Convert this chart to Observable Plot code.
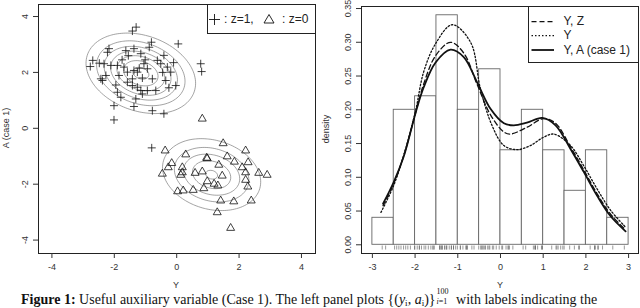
<!DOCTYPE html>
<html><head><meta charset="utf-8">
<script src="https://cdn.jsdelivr.net/npm/d3@7"></script>
<script src="https://cdn.jsdelivr.net/npm/@observablehq/plot@0.6"></script>
<style>
body{margin:0;background:#fff;}
#wrap{position:relative;width:640px;height:308px;overflow:hidden;font-family:"Liberation Sans",Arial,sans-serif;color:#222;}
#left,#right{position:absolute;top:0;}
#left{left:0}#right{left:320px}
.lg{position:absolute;border:1px solid #222;background:#fff;box-sizing:border-box;}
.t{position:absolute;font-size:9px;color:#333;white-space:nowrap;line-height:1;}
#caption{position:absolute;left:21px;top:293px;height:14px;font-family:"Liberation Serif","Times New Roman",serif;font-size:14px;white-space:nowrap;line-height:14px;color:#111;}
.stk{position:relative;display:inline-block;width:17px;height:1px;}
.stk span{position:absolute;left:1px;font-size:8px;line-height:8px;}
</style></head>
<body><div id="wrap">
<div id="left"></div><div id="right"></div>
</div>
<script>
// ---- left panel data: (Y, A) pairs, z=1 (plus) and z=0 (triangle)
const plusY = [-1.30,-1.42,0.05,-0.81,-0.88,-2.17,-2.22,-1.63,-1.37,-1.15,-1.01,-0.41,0.77,0.80,-2.69,-2.77,-2.48,-2.33,-2.11,-1.90,-2.43,-2.27,-2.38,-1.69,-1.58,-1.37,-1.26,-1.58,-1.42,-1.26,-1.15,-0.94,-0.67,-1.10,-1.90,-1.79,-1.31,-2.01,-1.37,-0.78,-0.41,-2.01,-0.51,-0.30,-0.19,-0.35,-0.03,-1.05,-0.94,-0.78,-0.62,-1.85,-1.42,-0.80,-1.75,-1.55,-1.95,-1.20,-1.10,-0.45,-0.25,-0.10];
const plusA = [3.62,3.48,3.02,3.08,2.90,2.85,2.72,2.78,2.85,2.67,2.45,2.61,2.31,2.03,2.43,2.21,2.33,2.31,2.25,2.25,1.77,1.89,1.71,2.19,2.01,2.07,2.01,1.65,1.53,1.47,1.35,1.35,1.35,1.23,1.29,1.11,1.05,0.81,0.78,0.63,0.52,0.30,2.31,2.19,2.01,1.71,1.53,2.31,2.13,1.77,2.43,1.89,1.77,-0.70,2.45,2.60,1.55,2.15,1.80,2.00,1.45,2.35];
const triY = [-0.37,0.29,1.49,2.21,1.62,-0.16,-0.27,0.96,0.98,1.35,0.18,0.18,-0.46,0.13,0.59,0.82,1.46,2.10,2.29,2.21,2.63,2.90,0.98,1.20,1.32,2.21,2.28,0.87,0.53,0.21,0.03,1.41,1.83,2.39,1.30,1.73,0.82,1.85];
const triA = [-0.80,-0.94,-0.54,-0.80,-1.01,-1.25,-1.40,-1.06,-1.08,-1.31,-1.40,-1.58,-1.63,-1.67,-1.60,-1.55,-1.70,-1.40,-1.22,-1.58,-1.60,-1.67,-1.90,-1.99,-2.05,-1.85,-2.09,-2.15,-2.21,-2.23,-2.26,-2.59,-2.62,-2.59,-3.01,-3.57,0.34,-1.20];
// fitted two-component normal mixture for the contour lines
const clusterMean = [[-1.15, 1.97], [1.12, -1.66]];
const clusterSD = [[0.88, 0.72], [0.87, 0.71]];
const clusterRho = [-0.25, -0.20];
const clusterWeight = [0.564, 0.39];
const contourLevels = [0.02, 0.04, 0.06, 0.08, 0.10, 0.12, 0.14];
const leftXTicks = [-4, -2, 0, 2, 4];
const leftYTicks = [-4, -2, 0, 2, 4];

// ---- right panel data
const binLeft = [-3,-2.5,-2,-1.5,-1,-0.5,0,0.5,1,1.5,2,2.5];
const binRight = [-2.5,-2,-1.5,-1,-0.5,0,0.5,1,1.5,2,2.5,3];
const binDensity = [0.04,0.20,0.22,0.34,0.20,0.26,0.14,0.20,0.14,0.08,0.14,0.04];
const yaX = [-2.75,-2.50,-2.26,-1.99,-1.80,-1.52,-1.17,-0.86,-0.55,-0.23,0.08,0.31,0.62,0.98,1.29,1.64,1.95,2.26,2.57,2.93];
const yaD = [0.061,0.093,0.132,0.195,0.233,0.270,0.289,0.278,0.241,0.201,0.180,0.177,0.181,0.188,0.177,0.142,0.108,0.073,0.043,0.020];
const yzX = [-2.75,-2.50,-2.26,-1.99,-1.80,-1.52,-1.17,-0.86,-0.55,-0.23,0.08,0.23,0.62,1.01,1.29,1.64,1.95,2.26,2.57,2.93];
const yzD = [0.058,0.091,0.133,0.195,0.238,0.280,0.300,0.284,0.238,0.192,0.167,0.164,0.174,0.187,0.180,0.145,0.111,0.076,0.046,0.022];
const yX = [-2.80,-2.50,-2.26,-1.99,-1.80,-1.52,-1.13,-0.70,-0.47,-0.20,0.08,0.39,0.70,1.00,1.25,1.64,1.95,2.26,2.58,2.93];
const yD = [0.048,0.088,0.134,0.198,0.256,0.298,0.326,0.300,0.231,0.177,0.147,0.141,0.147,0.159,0.164,0.147,0.117,0.083,0.051,0.026];
const rightXTicks = [-3,-2,-1,0,1,2,3];
const rightYTicks = [0,0.05,0.10,0.15,0.20,0.25,0.30,0.35];
const legendLabels = ["Y, Z", "Y", "Y, A (case 1)"];

// ---- build tables
const plusPts = plusY.map((y, i) => ({y, a: plusA[i]}));
const triPts = triY.map((y, i) => ({y, a: triA[i]}));
const hist = binLeft.map((x1, i) => ({x1, x2: binRight[i], d: binDensity[i]}));
const toPts = (xs, ds) => xs.map((x, i) => ({x, d: ds[i]}));
const rugY = plusY.concat(triY);

function mixture(x, y) {
  let s = 0;
  for (let k = 0; k < clusterWeight.length; k++) {
    const [mx, my] = clusterMean[k], [sx, sy] = clusterSD[k], r = clusterRho[k];
    const u = (x - mx) / sx, v = (y - my) / sy;
    const q = (u*u - 2*r*u*v + v*v) / (1 - r*r);
    s += clusterWeight[k] * Math.exp(-q/2) / (2*Math.PI*sx*sy*Math.sqrt(1 - r*r));
  }
  return s;
}

const font = {fontFamily: "Liberation Sans, Arial, sans-serif", fontSize: "9px", color: "#222", background: "white"};
const lx = [-4.43, 4.45], ly = [-4.48, 4.43];

const left = Plot.plot({
  width: 320, height: 290,
  marginLeft: 38, marginRight: 5, marginTop: 4, marginBottom: 37,
  x: {domain: lx}, y: {domain: ly},
  style: font,
  marks: [
    Plot.contour({value: mixture, x1: lx[0], x2: lx[1], y1: ly[0], y2: ly[1], thresholds: contourLevels, stroke: "#8c8c8c", strokeWidth: 0.8, fill: "none"}),
    Plot.dot(plusPts, {x: "y", y: "a", symbol: "plus", r: 2.7, stroke: "#111", strokeWidth: 0.8}),
    Plot.dot(triPts, {x: "y", y: "a", symbol: "triangle2", r: 3.8, stroke: "#111", strokeWidth: 0.8}),
    Plot.frame({stroke: "#222"}),
    Plot.axisX({ticks: leftXTicks, tickSize: 5, tickPadding: 5, tickFormat: d => String(d), label: null, color: "#333"}),
    Plot.axisY({ticks: leftYTicks, tickSize: 5, tickPadding: 6, tickRotate: -90, tickFormat: d => String(d), label: null, color: "#333"})
  ]
});
document.getElementById("left").appendChild(left);

const right = Plot.plot({
  width: 320, height: 290,
  marginLeft: 41, marginRight: 2, marginTop: 6, marginBottom: 37,
  x: {domain: [-3.255, 3.232]}, y: {domain: [-0.0129, 0.353]},
  style: font,
  marks: [
    Plot.rectY(hist, {x1: "x1", x2: "x2", y: "d", fill: "white", stroke: "#666", strokeWidth: 0.9}),
    Plot.ruleX(rugY, {x: d => d, y1: -0.0018, y2: -0.0078, stroke: "#555", strokeWidth: 0.6}),
    Plot.line(toPts(yzX, yzD), {x: "x", y: "d", curve: "catmull-rom", stroke: "#111", strokeWidth: 1.3, strokeDasharray: "5,3"}),
    Plot.line(toPts(yX, yD), {x: "x", y: "d", curve: "catmull-rom", stroke: "#111", strokeWidth: 1.3, strokeDasharray: "1.5,2"}),
    Plot.line(toPts(yaX, yaD), {x: "x", y: "d", curve: "catmull-rom", stroke: "#111", strokeWidth: 1.8}),
    Plot.frame({stroke: "#222"}),
    Plot.axisX({ticks: rightXTicks, tickSize: 5, tickPadding: 5, tickFormat: d => String(d), label: null, color: "#333"}),
    Plot.axisY({ticks: rightYTicks, tickSize: 5, tickPadding: 6, tickRotate: -90, tickFormat: d3.format(".2f"), label: null, color: "#333"})
  ]
});
document.getElementById("right").appendChild(right);

// ---- overlays: axis titles, legends, caption
const wrap = document.getElementById("wrap");
function add(html) { wrap.insertAdjacentHTML("beforeend", html); }
add(`<div class="t" style="left:176px;top:285px;transform:translate(-50%,-50%)">Y</div>`);
add(`<div class="t" style="left:500px;top:285px;transform:translate(-50%,-50%)">Y</div>`);
add(`<div class="t" style="left:6px;top:128px;transform:translate(-50%,-50%) rotate(-90deg)">A (case 1)</div>`);
add(`<div class="t" style="left:326px;top:129px;transform:translate(-50%,-50%) rotate(-90deg)">density</div>`);

add(`<div class="lg" style="left:207px;top:4px;width:109px;height:30px;">
<svg width="107" height="28" style="position:absolute;left:0;top:0">
<path d="M1,14.5h11M6.5,9v11" stroke="#111" stroke-width="0.9" fill="none"/>
<path d="M61,9.5l5,8.5h-10z" stroke="#111" stroke-width="0.9" fill="none"/>
</svg>
<span style="position:absolute;left:16px;top:7px;font-size:12px;line-height:14px">: z=1,</span>
<span style="position:absolute;left:74px;top:7px;font-size:12px;line-height:14px">: z=0</span>
</div>`);

const ly0 = [14.7, 28.7, 43];
let lsvg = "";
ly0.forEach((yy, i) => {
  const dash = i === 0 ? 'stroke-dasharray="5,3" stroke-width="1.3"' : i === 1 ? 'stroke-dasharray="1.5,2" stroke-width="1.3"' : 'stroke-width="1.8"';
  lsvg += `<line x1="2.5" x2="25" y1="${yy}" y2="${yy}" stroke="#111" ${dash}/>`;
});
let ltxt = legendLabels.map((s, i) => `<span style="position:absolute;left:34.5px;top:${ly0[i]-7.5}px;font-size:12px;line-height:14px">${s}</span>`).join("");
add(`<div class="lg" style="left:528px;top:6px;width:111px;height:57px;"><svg width="109" height="55" style="position:absolute;left:0;top:0">${lsvg}</svg>${ltxt}</div>`);

add(`<div id="caption"><b>Figure 1:</b> Useful auxiliary variable (Case 1). The left panel plots {(<i>y</i><span style="font-size:9px;position:relative;top:2px">i</span>, <i>a</i><span style="font-size:9px;position:relative;top:2px">i</span>)}<span class="stk"><span style="top:-15px">100</span><span style="top:-5px"><i>i</i>=1</span></span> with labels indicating the</div>`);
</script>
</body></html>
